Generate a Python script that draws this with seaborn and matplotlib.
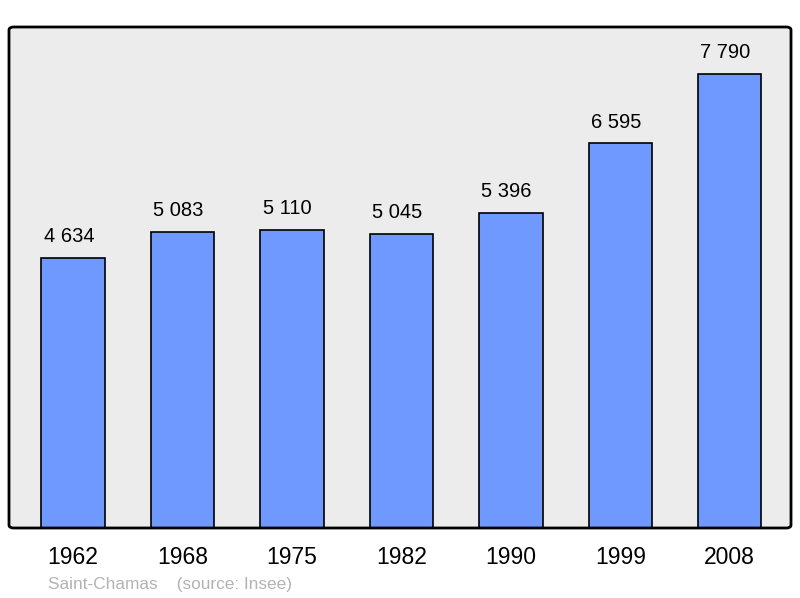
import pandas as pd
import seaborn as sns
import matplotlib.pyplot as plt
from matplotlib.patches import FancyBboxPatch

sns.set_theme(style='white')
plt.rcParams['font.family'] = ['Liberation Sans', 'DejaVu Sans']

years = ['1962', '1968', '1975', '1982', '1990', '1999', '2008']
population = [4634, 5083, 5110, 5045, 5396, 6595, 7790]
labels = ['4 634', '5 083', '5 110', '5 045', '5 396', '6 595', '7 790']

df = pd.DataFrame({'Année': years, 'Population': population})

fig = plt.figure(figsize=(8, 5.98), dpi=100)
ax = fig.add_axes([9/800, 1-528/598, 782/800, 501/598])
ax.set_facecolor('#ececec')

sns.barplot(data=df, x='Année', y='Population', color='#7099ff',
	saturation=1, width=0.58, edgecolor='black', linewidth=1.2, ax=ax)

for i, (v, lab) in enumerate(zip(population, labels)):
	ax.annotate(lab, (i, v), xytext=(-3, 8.5), textcoords='offset points',
		ha='center', va='bottom', fontsize=14.5, color='black')

ax.set_xlim(-0.585, 6.56)
ax.set_ylim(0, 8590)
ax.set_yticks([])
ax.set_xlabel('')
ax.set_ylabel('')
ax.tick_params(axis='x', length=0, labelsize=16.5, pad=13, labelcolor='black')
for s in ax.spines.values():
	s.set_visible(False)
frame = FancyBboxPatch((0, 0), 1, 1, boxstyle='round,pad=0,rounding_size=0.006',
	transform=ax.transAxes, fill=False, edgecolor='black', linewidth=2,
	clip_on=False, zorder=5)
ax.add_patch(frame)

fig.text(48/800, 1-584/598, 'Saint-Chamas    (source: Insee)', color='#b3b3b3',
	fontsize=12.4, va='center', ha='left')

fig.savefig('out.png', dpi=100)
